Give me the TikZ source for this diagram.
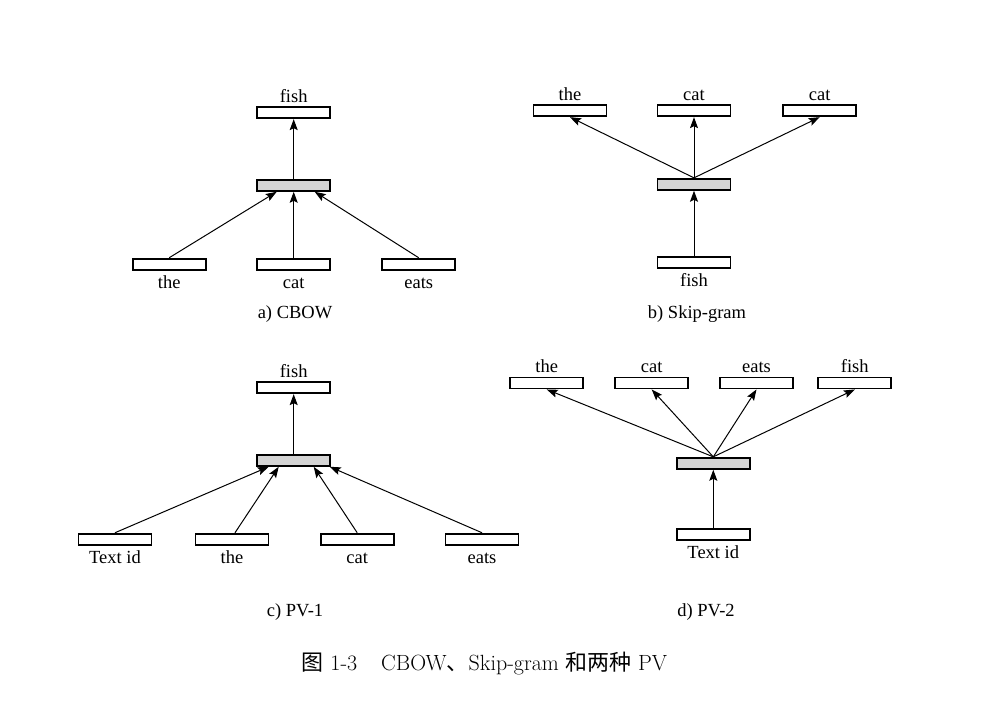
\documentclass[tikz,border=0pt]{standalone}
\usepackage{fontspec}
\newfontfamily\timesfont{Liberation Serif}
\newfontfamily\cjk{Noto Sans CJK SC}
\usetikzlibrary{arrows.meta}

\begin{document}
\begin{tikzpicture}[
    x=1pt, y=-1pt,
    % Style for the word vectors (white boxes)
    wordBox/.style={
        rectangle,
        draw=black,
        fill=white,
        line width=1.9pt,
        inner sep=0pt,
        minimum width=73pt,
        minimum height=11pt
    },
    % Style for the hidden layer (grey box)
    hiddenBox/.style={
        wordBox,
        fill=black!17
    },
    % Style for the words
    wordText/.style={
        font=\timesfont\fontsize{18.5}{20}\selectfont,
        anchor=base,
        inner sep=0pt
    },
    % Style for the sub captions
    subCaption/.style={
        wordText
    },
    % Style for the arrows
    arrowStyle/.style={
        draw=black,
        line width=1pt,
        -{Stealth[length=11pt, width=8pt, inset=2pt]}
    }
]

    % --- COORDINATES ---
    \def\gapAbove{4}  % text baseline above a box
    \def\gapBelow{18} % text baseline below a box

    % --- a) CBOW ---
    \node[wordBox]   (cbowOut)  at (293.7, 112.7) {};
    \node[hiddenBox] (cbowHid)  at (293.7, 185.3) {};
    \node[wordBox]   (cbowThe)  at (169.2, 264.2) {};
    \node[wordBox]   (cbowCat)  at (293.7, 264.2) {};
    \node[wordBox]   (cbowEats) at (418.7, 264.2) {};
    \node[wordText] (cbowOutLbl)  at ([yshift=\gapAbove pt]cbowOut.north) {fish};
    \node[wordText] (cbowTheLbl)  at ([yshift=-\gapBelow pt]cbowThe.south) {the};
    \node[wordText] (cbowCatLbl)  at ([yshift=-\gapBelow pt]cbowCat.south) {cat};
    \node[wordText] (cbowEatsLbl) at ([yshift=-\gapBelow pt]cbowEats.south) {eats};
    \node[subCaption] (cbowCap) at (295, 318) {a) CBOW};
    \draw[arrowStyle] (cbowHid.north) -- (cbowOut.south);
    \draw[arrowStyle] (cbowThe.north) -- ([xshift=-17pt]cbowHid.south);
    \draw[arrowStyle] (cbowCat.north) -- (cbowHid.south);
    \draw[arrowStyle] (cbowEats.north) -- ([xshift=21pt]cbowHid.south);

    % --- b) SKIP-GRAM ---
    \node[wordBox]   (skipThe)  at (570, 110.7) {};
    \node[wordBox]   (skipCat)  at (694, 110.7) {};
    \node[wordBox]   (skipCatB) at (819.7, 110.7) {};
    \node[hiddenBox] (skipHid)  at (694, 184.3) {};
    \node[wordBox]   (skipIn)   at (694, 262.3) {};
    \node[wordText] (skipTheLbl)  at ([yshift=\gapAbove pt]skipThe.north) {the};
    \node[wordText] (skipCatLbl)  at ([yshift=\gapAbove pt]skipCat.north) {cat};
    \node[wordText] (skipCatBLbl) at ([yshift=\gapAbove pt]skipCatB.north) {cat};
    \node[wordText] (skipInLbl)   at ([yshift=-\gapBelow pt]skipIn.south) {fish};
    \node[subCaption] (skipCap) at (697, 318) {b) Skip-gram};
    \draw[arrowStyle] (skipIn.north) -- (skipHid.south);
    \draw[arrowStyle] (skipHid.north) -- (skipThe.south);
    \draw[arrowStyle] (skipHid.north) -- (skipCat.south);
    \draw[arrowStyle] (skipHid.north) -- (skipCatB.south);

    % --- c) PV-1 ---
    \node[wordBox]   (pvaOut)  at (293.7, 387.7) {};
    \node[hiddenBox] (pvaHid)  at (293.7, 460.3) {};
    \node[wordBox]   (pvaId)   at (115, 539.2) {};
    \node[wordBox]   (pvaThe)  at (232, 539.2) {};
    \node[wordBox]   (pvaCat)  at (357.2, 539.2) {};
    \node[wordBox]   (pvaEats) at (482, 539.2) {};
    \node[wordText] (pvaOutLbl)  at ([yshift=\gapAbove pt]pvaOut.north) {fish};
    \node[wordText] (pvaIdLbl)   at ([yshift=-\gapBelow pt]pvaId.south) {Text id};
    \node[wordText] (pvaTheLbl)  at ([yshift=-\gapBelow pt]pvaThe.south) {the};
    \node[wordText] (pvaCatLbl)  at ([yshift=-\gapBelow pt]pvaCat.south) {cat};
    \node[wordText] (pvaEatsLbl) at ([yshift=-\gapBelow pt]pvaEats.south) {eats};
    \node[subCaption] (pvaCap) at (295, 616) {c) PV-1};
    \draw[arrowStyle] (pvaHid.north) -- (pvaOut.south);
    \draw[arrowStyle] (pvaId.north) -- ([xshift=-25pt]pvaHid.south);
    \draw[arrowStyle] ([xshift=3pt]pvaThe.north) -- ([xshift=-15pt]pvaHid.south);
    \draw[arrowStyle] (pvaCat.north) -- ([xshift=20pt]pvaHid.south);
    \draw[arrowStyle] (pvaEats.north) -- ([xshift=36pt]pvaHid.south);

    % --- d) PV-2 ---
    \node[wordBox]   (pvbThe)  at (546.7, 383) {};
    \node[wordBox]   (pvbCat)  at (651.7, 383) {};
    \node[wordBox]   (pvbEats) at (756.5, 383) {};
    \node[wordBox]   (pvbFish) at (854.8, 383) {};
    \node[hiddenBox] (pvbHid)  at (713.3, 463.3) {};
    \node[wordBox]   (pvbId)   at (713.3, 534.2) {};
    \node[wordText] (pvbTheLbl)  at ([yshift=\gapAbove pt]pvbThe.north) {the};
    \node[wordText] (pvbCatLbl)  at ([yshift=\gapAbove pt]pvbCat.north) {cat};
    \node[wordText] (pvbEatsLbl) at ([yshift=\gapAbove pt]pvbEats.north) {eats};
    \node[wordText] (pvbFishLbl) at ([yshift=\gapAbove pt]pvbFish.north) {fish};
    \node[wordText] (pvbIdLbl)   at ([yshift=-\gapBelow pt]pvbId.south) {Text id};
    \node[subCaption] (pvbCap) at (706, 616) {d) PV-2};
    \draw[arrowStyle] (pvbId.north) -- (pvbHid.south);
    \draw[arrowStyle] (pvbHid.north) -- (pvbThe.south);
    \draw[arrowStyle] (pvbHid.north) -- (pvbCat.south);
    \draw[arrowStyle] (pvbHid.north) -- (pvbEats.south);
    \draw[arrowStyle] (pvbHid.north) -- (pvbFish.south);

    % --- FIGURE CAPTION ---
    \node[anchor=base, inner sep=0pt, font=\fontsize{22}{26}\selectfont] (figCap) at (484.5, 670)
        {{\cjk 图}\ 1-3\hspace{24pt}CBOW{\cjk 、}Skip-gram {\cjk 和两种} PV};

    \useasboundingbox (0,0) rectangle (1002,710);

\end{tikzpicture}
\end{document}
